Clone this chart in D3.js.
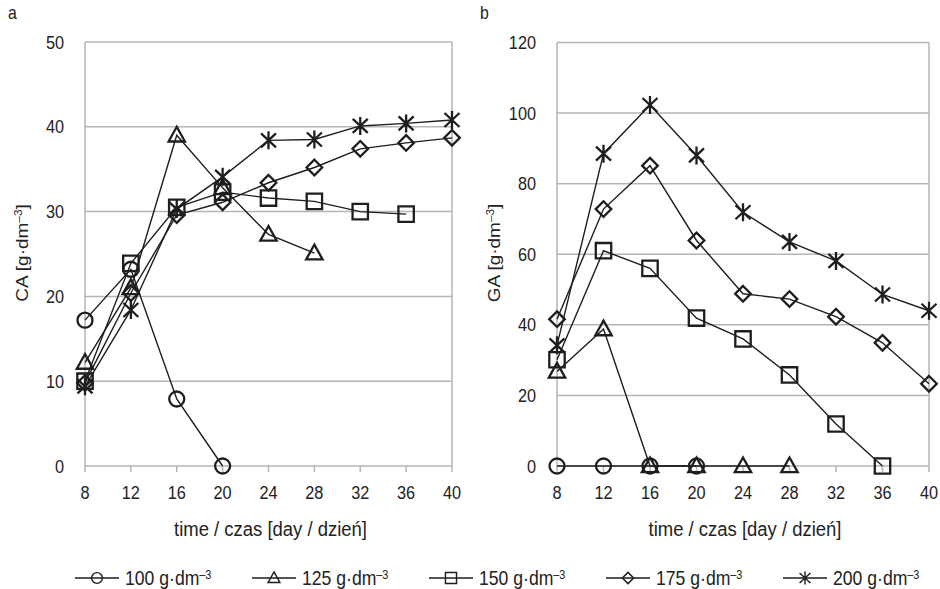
<!DOCTYPE html>
<html>
<head>
<meta charset="utf-8">
<script src="https://cdn.jsdelivr.net/npm/d3@7"></script>
<style>
  body { margin: 0; background: #fff; }
  text { font-family: "Liberation Sans", Arial, sans-serif; fill: #222; }
</style>
</head>
<body>
<div id="container"></div>
<script>
// days of measurement
var days = [8, 12, 16, 20, 24, 28, 32, 36, 40]
var xTicks = [8, 12, 16, 20, 24, 28, 32, 36, 40]
var concLabels = ["100", "125", "150", "175", "200"]
var markers = ["circle", "triangle", "square", "diamond", "star"]

// panel a: CA [g/dm3]
var ca100 = [17.2, 23.2, 7.9, 0]
var ca125 = [12.2, 21.0, 39.0, 32.8, 27.3, 25.1]
var ca150 = [10.0, 23.9, 30.5, 32.3, 31.6, 31.2, 30.0, 29.7]
var ca175 = [9.8, 20.4, 29.6, 31.1, 33.4, 35.2, 37.4, 38.1, 38.7]
var ca200 = [9.4, 18.4, 30.3, 34.1, 38.4, 38.5, 40.1, 40.4, 40.8]
var caTicks = [0, 10, 20, 30, 40, 50]

// panel b: GA [g/dm3]
var ga100 = [0, 0, 0, 0]
var ga125 = [26.8, 38.8, 0, 0, 0, 0]
var ga150 = [30.1, 61.0, 56.0, 41.9, 36.0, 25.8, 11.9, 0]
var ga175 = [41.6, 72.8, 85.1, 63.9, 48.8, 47.3, 42.3, 34.9, 23.3]
var ga200 = [34.2, 88.5, 102.3, 88.0, 71.9, 63.5, 58.1, 48.6, 44.0]
var gaTicks = [0, 20, 40, 60, 80, 100, 120]

var squeeze = 0.88  // text in the original is a bit condensed

var svg = d3.select("#container").append("svg")
    .attr("width", 940)
    .attr("height", 589)

function markerPath(type) {
  var p = d3.path()
  if (type == "circle") {
    p.moveTo(7.5, 0); p.arc(0, 0, 7.5, 0, 2 * Math.PI)
  } else if (type == "triangle") {
    p.moveTo(0, -8.5); p.lineTo(8.2, 6.2); p.lineTo(-8.2, 6.2); p.closePath()
  } else if (type == "square") {
    p.rect(-7.7, -7.7, 15.4, 15.4)
  } else if (type == "diamond") {
    p.moveTo(0, -7.8); p.lineTo(7.8, 0); p.lineTo(0, 7.8); p.lineTo(-7.8, 0); p.closePath()
  } else {
    p.moveTo(0, -9); p.lineTo(0, 9)
    p.moveTo(-7.5, -7); p.lineTo(7.5, 7)
    p.moveTo(7.5, -7); p.lineTo(-7.5, 7)
  }
  return p.toString()
}

function label(parent, x, y, size, anchor) {
  return parent.append("text")
      .attr("transform", "translate(" + x + "," + y + ") scale(" + squeeze + ",1)")
      .attr("text-anchor", anchor)
      .attr("font-size", size + "px")
}

function unitText(sel, prefix) {
  sel.append("tspan").text(prefix + "g·dm")
  sel.append("tspan").attr("baseline-shift", "super").attr("font-size", "0.62em").text("–3")
}

function panel(opts) {
  var x = d3.scaleLinear().domain([8, 40]).range([opts.left, opts.right])
  var y = d3.scaleLinear().domain([0, opts.max]).range([466, opts.top])
  var g = svg.append("g")

  // gridlines
  g.selectAll(".grid").data(opts.yTicks).enter().append("line")
      .attr("x1", x(8)).attr("x2", x(40))
      .attr("y1", function(d) { return y(d) }).attr("y2", function(d) { return y(d) })
      .attr("stroke", "#b5b5b5").attr("stroke-width", 1.5)

  // box sides
  g.selectAll(".side").data([8, 40]).enter().append("line")
      .attr("x1", function(d) { return x(d) }).attr("x2", function(d) { return x(d) })
      .attr("y1", y(opts.max)).attr("y2", y(0))
      .attr("stroke", "#b5b5b5").attr("stroke-width", 1.5)

  // x ticks
  g.selectAll(".xt").data(xTicks).enter().append("line")
      .attr("x1", function(d) { return x(d) }).attr("x2", function(d) { return x(d) })
      .attr("y1", y(0)).attr("y2", y(0) + 6)
      .attr("stroke", "#b5b5b5").attr("stroke-width", 1.5)

  xTicks.forEach(function(d) {
    label(g, x(d), 499, 18.5, "middle").text(d)
  })
  opts.yTicks.forEach(function(d) {
    label(g, opts.left - 21, y(d) + 6.5, 18.5, "end").text(d)
  })

  label(g, (opts.left + opts.right) / 2 + 2, 536, 21, "middle")
      .text("time / czas [day / dzień]")

  var yt = g.append("text")
      .attr("transform", "translate(" + (opts.left - 57) + ",253) rotate(-90) scale(1," + squeeze + ")")
      .attr("text-anchor", "middle")
      .attr("font-size", "19px")
  unitText(yt, opts.name + " [")
  yt.append("tspan").text("]")

  label(g, opts.left - 77, 19, 18, "start").text(opts.letter)

  var line = d3.line()
      .x(function(d) { return x(d[0]) })
      .y(function(d) { return y(d[1]) })

  opts.series.forEach(function(vals, i) {
    var pts = vals.map(function(v, j) { return [days[j], v] })
    g.append("path")
        .attr("d", line(pts))
        .attr("fill", "none")
        .attr("stroke", "#1e1e1e")
        .attr("stroke-width", 1.4)
    g.selectAll(".m" + i).data(pts).enter().append("path")
        .attr("transform", function(d) { return "translate(" + x(d[0]) + "," + y(d[1]) + ")" })
        .attr("d", markerPath(markers[i]))
        .attr("fill", "none")
        .attr("stroke", "#1e1e1e")
        .attr("stroke-width", 2.3)
  })
}

panel({ left: 85, right: 452, top: 42, max: 50, yTicks: caTicks, name: "CA", letter: "a",
        series: [ca100, ca125, ca150, ca175, ca200] })
panel({ left: 557, right: 929, top: 42.5, max: 120, yTicks: gaTicks, name: "GA", letter: "b",
        series: [ga100, ga125, ga150, ga175, ga200] })

// legend
var legend = svg.append("g")
concLabels.forEach(function(c, i) {
  var lx = 75 + i * 177
  var item = legend.append("g").attr("transform", "translate(" + lx + ",578)")
  item.append("line")
      .attr("x1", 0).attr("x2", 44)
      .attr("stroke", "#1e1e1e").attr("stroke-width", 1.4)
  item.append("path")
      .attr("transform", "translate(22,0) scale(0.72)")
      .attr("d", markerPath(markers[i]))
      .attr("fill", "none")
      .attr("stroke", "#1e1e1e")
      .attr("stroke-width", 2)
  unitText(label(item, 50, 7, 20, "start"), c + " ")
})
</script>
</body>
</html>
